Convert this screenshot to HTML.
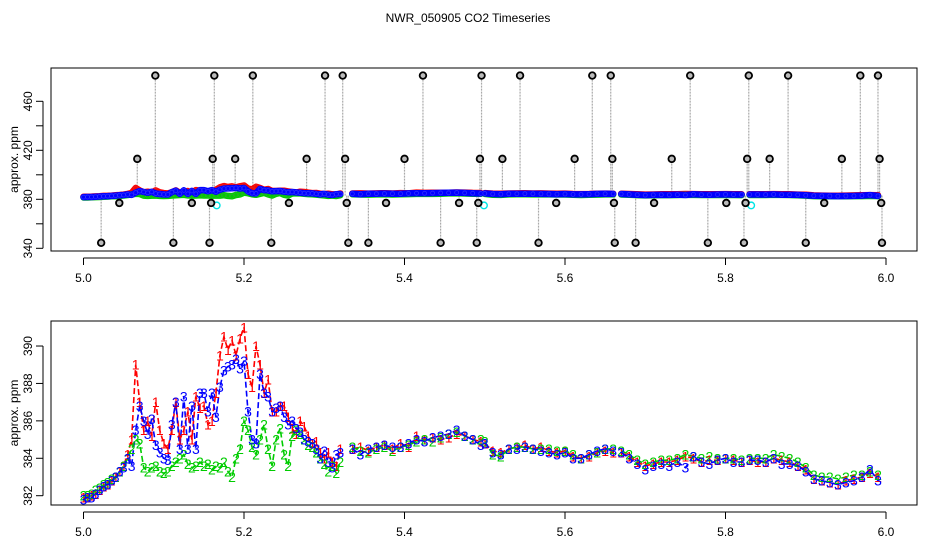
<!DOCTYPE html>
<html><head><meta charset="utf-8"><style>
html,body{margin:0;padding:0;background:#fff}
svg{display:block;font-family:"Liberation Sans",Arial,sans-serif}
</style></head><body>
<svg id="chart" width="936" height="540" xmlns="http://www.w3.org/2000/svg">
<text x="468" y="22" text-anchor="middle" font-size="12">NWR_050905  CO2 Timeseries</text>
<g id="top"></g>
<g id="bot"></g>
</svg>
<script>
// segment definitions: start time and step per segment
const segStart = [5.0, 5.335, 5.5, 5.67, 5.83];
const segStep = [0.005, 0.01, 0.01, 0.01, 0.01];
const series1 = [
[381.9,381.9,382.0,382.1,382.3, 382.5,382.6,382.8,383.0,383.3, 383.6,384.2,385.0,389.0,387.0, 385.5,386.0,385.2,387.0,385.5, 384.8,384.5,385.5,387.0,385.0, 385.5,386.5,385.0,387.3,386.7, 386.8,385.8,386.0,387.5,389.5, 390.5,389.8,390.3,389.5,390.4, 391.0,388.5,387.8,390.0,389.0, 387.5,388.2,386.5,386.5,386.8, 386.8,386.2,385.6,385.3,386.0, 385.7,385.2,384.8,384.9,384.3, 384.0,384.3,383.8,383.6,384.5],
[384.5,384.6,384.4,384.6,384.7,384.5,384.8,384.6,385.2,385.0,385.1,385.0,385.1,385.3,385.2,385.0,384.9],
[384.8,384.4,384.3,384.5,384.6,384.7,384.5,384.6,384.4,384.3,384.4,384.1,384.0,384.1,384.3,384.4,384.3],
[384.3,384.1,383.8,383.6,383.7,383.8,383.8,383.9,384.1,384.0,383.8,383.9,383.9,384.0,383.9,383.8],
[383.9,383.8,383.8,384.0,383.9,383.8,383.6,383.4,382.9,382.8,382.7,382.6,382.8,382.9,383.0,383.2,383.0]];
const series2 = [
[382.0,382.0,382.1,382.3,382.4, 382.6,382.7,382.9,383.0,383.3, 383.6,384.0,384.5,385.0,384.8, 383.5,383.3,383.5,383.6,383.3, 383.2,383.3,383.6,383.8,384.0, 384.2,383.7,383.5,383.6,383.8, 383.6,383.7,383.4,383.6,383.5, 383.8,383.3,383.0,384.0,384.5, 386.0,385.5,384.6,384.2,385.0, 385.8,384.5,383.6,385.0,385.6, 384.2,383.6,385.2,385.5,385.3, 385.0,384.7,384.6,384.3,384.0, 383.7,383.3,383.6,383.2,383.8],
[384.6,384.4,384.3,384.5,384.6,384.4,384.6,384.7,384.9,385.0,384.9,385.1,385.3,385.4,385.2,385.0,385.0],
[384.9,384.2,384.1,384.5,384.6,384.6,384.5,384.5,384.5,384.4,384.4,384.2,384.0,384.2,384.3,384.5,384.5],
[384.4,384.2,383.9,383.7,383.8,383.9,383.9,384.0,384.2,384.1,384.0,384.1,384.0,384.0,384.0,383.9],
[384.0,384.0,384.0,384.2,384.1,384.0,383.8,383.5,383.1,383.0,383.0,382.9,383.0,383.1,383.1,383.3,383.1]];
const series3 = [
[381.8,381.9,381.9,382.1,382.3, 382.5,382.6,382.8,383.0,383.3, 383.5,384.0,383.6,385.5,386.8, 386.0,385.3,386.1,384.7,384.3, 384.0,383.9,385.8,387.0,384.5, 387.3,384.5,386.8,384.5,387.5, 387.5,386.5,387.5,386.2,387.8, 388.7,388.9,389.0,389.3,388.8, 389.2,386.5,385.0,384.8,388.5, 387.5,387.3,386.5,386.7,386.8, 386.2,385.8,386.0,385.6,385.4, 385.0,384.9,384.8,384.5,384.0, 384.4,383.8,383.5,384.2,384.3],
[384.5,384.2,384.5,384.6,384.7,384.6,384.6,384.8,385.0,384.9,385.1,385.2,385.3,385.5,385.2,385.0,384.7],
[384.8,384.3,384.2,384.5,384.5,384.6,384.5,384.4,384.3,384.2,384.3,384.0,384.0,384.2,384.4,384.5,384.4],
[384.3,384.0,383.7,383.4,383.6,383.7,383.6,383.8,383.5,384.1,383.8,383.7,383.9,384.0,383.8,383.8],
[383.9,383.9,383.8,384.0,383.7,383.7,383.6,383.3,382.9,382.8,382.7,382.6,382.7,382.8,383.0,383.4,382.8]];
const outTimes = [5.022,5.0446,5.067,5.0895,5.112,5.135,5.157,5.159,5.161,5.163,5.189,5.211,5.234,5.256,5.278,5.301,5.323,5.326,5.328,5.330,5.355,5.377,5.400,5.423,5.445,5.468,5.490,5.492,5.494,5.496,5.522,5.544,5.567,5.589,5.612,5.634,5.657,5.659,5.661,5.662,5.688,5.711,5.733,5.756,5.778,5.801,5.823,5.825,5.827,5.829,5.855,5.878,5.900,5.923,5.945,5.968,5.990,5.992,5.994,5.995];
const outValues = [344.5,377,413,481,344.5,377,344.5,377,413,481,413,481,344.5,377,413,481,481,413,377,344.5,344.5,377,413,481,344.5,377,344.5,377,413,481,413,481,344.5,377,413,481,481,413,377,344.5,344.5,377,413,481,344.5,377,344.5,377,413,481,413,481,344.5,377,413,481,481,413,377,344.5];
const cyanTimes = [5.166,5.499,5.832];
const cyanValues = [375,375,375];
const topTicks = [340,360,380,400,420,440,460];
const topLabels = ["340","","380","","420","","460"];
const botTicks = [382,384,386,388,390];
const xTicks = [5.0,5.2,5.4,5.6,5.8,6.0];
const xLabels = ["5.0","5.2","5.4","5.6","5.8","6.0"];

const NS="http://www.w3.org/2000/svg";
const X = t => 83.5 + (t-5)*802.5;
const Ytop = v => 199.3 - (v-380)*1.225;
const Ybot = v => 495.7 - (v-382)*18.71;
function mk(tag, attrs, parent, txt){const e=document.createElementNS(NS,tag);for(const k in attrs)e.setAttribute(k,attrs[k]);if(txt!==undefined)e.textContent=txt;parent.appendChild(e);return e;}

function axes(g, top, bottom, Y, ticks, labels, name){
  let b=mk('rect',{x:51,y:top,width:866,height:bottom-top,fill:'none',stroke:'#000','stroke-width':1},g);
  
  
  const ax=bottom+7;
  let xl=mk('line',{x1:X(xTicks[0]),x2:X(xTicks[xTicks.length-1]),y1:ax,y2:ax,stroke:'#000'},g);
  
  
  xTicks.forEach((t,i)=>{
    mk('line',{x1:X(t),x2:X(t),y1:ax,y2:ax+7,stroke:'#000'},g);
    let tl=mk('text',{x:X(t),y:ax+24,'text-anchor':'middle','font-size':12},g,xLabels[i]);
    
    
  });
  const yx=43;
  let yl=mk('line',{x1:yx,x2:yx,y1:Y(ticks[0]),y2:Y(ticks[ticks.length-1]),stroke:'#000'},g);
  
  
  ticks.forEach((v,i)=>{
    mk('line',{x1:yx-7,x2:yx,y1:Y(v),y2:Y(v),stroke:'#000'},g);
    if(labels[i]){
      let tl=mk('text',{x:yx-11,y:Y(v),'text-anchor':'middle','font-size':12,transform:`rotate(-90 ${yx-11} ${Y(v)})`},g,labels[i]);
      
      
    }
  });
  const cy=(top+bottom)/2;
  let yt=mk('text',{x:18,y:cy,'text-anchor':'middle','font-size':12,transform:`rotate(-90 18 ${cy})`},g,'approx. ppm');
  
  
}

const colors=['#ff0000','#00cc00','#0000ff'];
const allSeries=[series1,series2,series3];
const labelsCh=['1','2','3'];

// TOP PANEL
const gt=document.getElementById('top');
axes(gt,68,251,Ytop,topTicks,topLabels,'top');
outTimes.forEach((t,i)=>{
  let l=mk('line',{x1:X(t),x2:X(t),y1:Ytop(383),y2:Ytop(outValues[i]),stroke:'#aaa','stroke-width':1.2,'stroke-dasharray':'2 1'},gt);
  
  
});
const bandW=[6.5,6.5,6.5];
const bandOff=[-0.3,0.6,0];
allSeries.forEach((ser,si)=>{
  ser.forEach((seg,k)=>{
    const pts=seg.map((v,j)=>X(segStart[k]+segStep[k]*j).toFixed(1)+','+(Ytop(v)+bandOff[si]).toFixed(1)).join(' ');
    let p=mk('polyline',{points:pts,fill:'none',stroke:colors[si],'stroke-width':bandW[si],'stroke-linecap':'round','stroke-linejoin':'round'},gt);
    
    
    seg.forEach((v,j)=>{
      const t=segStart[k]+segStep[k]*j;
      let c=mk('circle',{cx:X(t),cy:Ytop(v)+bandOff[si],r:2,fill:'none',stroke:si==2?'#3a3aff':'#7a7a7a','stroke-width':0.8,'stroke-opacity':si==2?0.8:0.3},gt);
      
      
    });
  });
});
cyanTimes.forEach((t,i)=>{
  let c=mk('circle',{cx:X(t),cy:Ytop(cyanValues[i]),r:3.3,fill:'none',stroke:'#00e5e5','stroke-width':1.4},gt);
  
  
});
outTimes.forEach((t,i)=>{
  let c=mk('circle',{cx:X(t),cy:Ytop(outValues[i]),r:3.3,fill:'#bbb',stroke:'#000','stroke-width':1.8},gt);
  
  
});

// BOTTOM PANEL
const gb=document.getElementById('bot');
axes(gb,321,505,Ybot,botTicks,botTicks.map(String),'bottom');
const order=[0,1,2];
order.forEach(si=>{
  allSeries[si].forEach((seg,k)=>{
    const pts=seg.map((v,j)=>X(segStart[k]+segStep[k]*j).toFixed(1)+','+Ybot(v).toFixed(1)).join(' ');
    let p=mk('polyline',{points:pts,fill:'none',stroke:colors[si],'stroke-width':1.6,'stroke-dasharray':'6 3'},gb);
    
    
  });
});
order.forEach(si=>{
  allSeries[si].forEach((seg,k)=>{
    seg.forEach((v,j)=>{
      const t=segStart[k]+segStep[k]*j;
      let tx=mk('text',{x:X(t),y:Ybot(v)+5,'text-anchor':'middle','font-size':14,fill:colors[si]},gb,labelsCh[si]);
      
      
    });
  });
});
</script>
</body></html>
